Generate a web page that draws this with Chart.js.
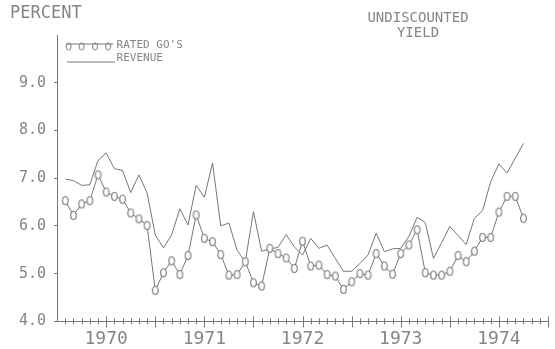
<!DOCTYPE html>
<html lang="en">
<head>
    <meta charset="UTF-8">
    <title>Undiscounted Yield</title>
    <script src="https://cdn.jsdelivr.net/npm/chart.js"></script>
    <style>
        html, body { margin: 0; padding: 0; background: #fff; }
    </style>
</head>
<body>
<canvas id="yieldChart" width="555" height="349"></canvas>
<script>
    // monthly observations, Feb 1970 .. Oct 1974
    const periods = [
        '1970-02','1970-03','1970-04','1970-05','1970-06','1970-07','1970-08','1970-09','1970-10','1970-11','1970-12',
        '1971-01','1971-02','1971-03','1971-04','1971-05','1971-06','1971-07','1971-08','1971-09','1971-10','1971-11','1971-12',
        '1972-01','1972-02','1972-03','1972-04','1972-05','1972-06','1972-07','1972-08','1972-09','1972-10','1972-11','1972-12',
        '1973-01','1973-02','1973-03','1973-04','1973-05','1973-06','1973-07','1973-08','1973-09','1973-10','1973-11','1973-12',
        '1974-01','1974-02','1974-03','1974-04','1974-05','1974-06','1974-07','1974-08','1974-09','1974-10'
    ];
    const ratedGOs = [
        6.53, 6.22, 6.46, 6.53, 7.07, 6.71, 6.62, 6.56, 6.27, 6.15, 6.01,
        4.65, 5.02, 5.27, 4.98, 5.38, 6.23, 5.74, 5.67, 5.40, 4.97, 4.98, 5.25,
        4.81, 4.74, 5.53, 5.42, 5.33, 5.11, 5.68, 5.16, 5.18, 4.98, 4.95, 4.67,
        4.83, 5.00, 4.97, 5.42, 5.16, 4.99, 5.42, 5.60, 5.92, 5.02, 4.97, 4.97,
        5.05, 5.38, 5.25, 5.47, 5.76, 5.76, 6.29, 6.62, 6.62, 6.16
    ];
    const revenue = [
        6.98, 6.95, 6.85, 6.86, 7.37, 7.53, 7.20, 7.16, 6.70, 7.07, 6.69,
        5.81, 5.54, 5.81, 6.36, 6.02, 6.85, 6.60, 7.32, 6.00, 6.06, 5.49, 5.25,
        6.30, 5.47, 5.52, 5.55, 5.82, 5.56, 5.39, 5.74, 5.53, 5.60, 5.32, 5.05,
        5.05, 5.21, 5.39, 5.85, 5.46, 5.52, 5.53, 5.78, 6.18, 6.07, 5.32, 5.65,
        5.99, 5.80, 5.61, 6.16, 6.32, 6.93, 7.30, 7.11, 7.42, 7.73
    ];
    const yearLabels = ['1970', '1971', '1972', '1973', '1974'];
    const seriesNames = ['RATED GO\'S', 'REVENUE'];
    const yAxisTitle = 'PERCENT';
    const cornerTitle = ['UNDISCOUNTED', 'YIELD'];

    const ink = '#767676';
    const textInk = '#858585';
    const mono = '"DejaVu Sans Mono", monospace';

    // months since Jan 1970
    function monthIndex(p) {
        const [y, m] = p.split('-').map(Number);
        return (y - 1970) * 12 + (m - 1);
    }
    const toPoints = values => values.map((v, i) => ({ x: monthIndex(periods[i]), y: v }));

    // hollow "0" shaped marker used for the rated series
    function drawOval(c, cx, cy, rx, ry) {
        c.beginPath();
        c.ellipse(cx, cy, rx, ry, 0, 0, Math.PI * 2);
        c.fill();
        c.stroke();
    }
    function makeMarker() {
        const cv = document.createElement('canvas');
        cv.width = 9; cv.height = 11;
        const c = cv.getContext('2d');
        c.strokeStyle = ink; c.fillStyle = '#fff'; c.lineWidth = 1.1;
        drawOval(c, 4.5, 5.5, 2.8, 4);
        return cv;
    }
    function makeRatedIcon() {
        const cv = document.createElement('canvas');
        cv.width = 60; cv.height = 12;
        const c = cv.getContext('2d');
        c.strokeStyle = ink; c.fillStyle = '#fff'; c.lineWidth = 1;
        [13.5, 26.5, 40, 53].forEach(x => drawOval(c, x, 7, 2.5, 3.5));
        c.beginPath(); c.moveTo(11, 4.5); c.lineTo(58, 4.5); c.stroke();
        return cv;
    }
    function makeLineIcon() {
        const cv = document.createElement('canvas');
        cv.width = 60; cv.height = 12;
        const c = cv.getContext('2d');
        c.strokeStyle = ink; c.lineWidth = 1;
        c.beginPath(); c.moveTo(12, 9.5); c.lineTo(60, 9.5); c.stroke();
        return cv;
    }
    const legendIcons = [makeRatedIcon(), makeLineIcon()];

    // keep the legend inside the plot, at its top left corner
    const legendInPlot = {
        id: 'legendInPlot',
        afterLayout(chart) {
            const lg = chart.legend;
            lg.left = chart.chartArea.left;
            lg.top = chart.chartArea.top + 3;
            lg.right = lg.left + lg.width;
            lg.bottom = lg.top + lg.height;
        }
    };

    // month ticks that cross the time axis, longer every half year
    const monthTicks = {
        id: 'monthTicks',
        afterDraw(chart) {
            const xs = chart.scales.x;
            const y0 = chart.chartArea.bottom;
            const c = chart.ctx;
            c.save();
            c.strokeStyle = ink;
            c.lineWidth = 1;
            xs.ticks.forEach(t => {
                if (t.value === 0) return;
                const px = Math.round(xs.getPixelForValue(t.value)) + 0.5;
                const major = t.value % 6 === 0;
                c.beginPath();
                c.moveTo(px, y0 - (major ? 5 : 3));
                c.lineTo(px, y0 + (major ? 6 : 3));
                c.stroke();
            });
            c.restore();
        }
    };

    // header texts
    const headerText = {
        id: 'headerText',
        afterDraw(chart) {
            const c = chart.ctx;
            c.save();
            c.fillStyle = textInk;
            c.textBaseline = 'middle';
            c.font = '17px ' + mono;
            c.textAlign = 'left';
            c.fillText(yAxisTitle, 10, 14);
            c.font = '14px ' + mono;
            c.textAlign = 'center';
            cornerTitle.forEach((line, i) => c.fillText(line, 418, 18 + i * 15));
            c.restore();
        }
    };

    const ctx = document.getElementById('yieldChart').getContext('2d');
    const yieldChart = new Chart(ctx, {
        type: 'line',
        data: {
            datasets: [{
                label: seriesNames[0],
                data: toPoints(ratedGOs),
                borderColor: ink,
                borderWidth: 1,
                pointStyle: makeMarker(),
                pointRadius: 4,
                tension: 0
            }, {
                label: seriesNames[1],
                data: toPoints(revenue),
                borderColor: ink,
                borderWidth: 1,
                pointRadius: 0,
                tension: 0
            }]
        },
        options: {
            responsive: false,
            animation: false,
            devicePixelRatio: 1,
            layout: { padding: { left: 11, right: 2, top: 35, bottom: -8 } },
            plugins: {
                tooltip: { enabled: false },
                legend: {
                    position: 'chartArea',
                    align: 'start',
                    labels: {
                        usePointStyle: true,
                        pointStyleWidth: 52,
                        boxHeight: 10,
                        padding: 2,
                        color: textInk,
                        font: { family: mono, size: 11 },
                        generateLabels(chart) {
                            return chart.data.datasets.map((ds, i) => ({
                                text: ds.label,
                                pointStyle: legendIcons[i],
                                datasetIndex: i,
                                fontColor: textInk,
                                fillStyle: 'transparent',
                                strokeStyle: 'transparent',
                                lineWidth: 0,
                                hidden: false
                            }));
                        }
                    }
                }
            },
            scales: {
                x: {
                    type: 'linear',
                    min: 0,
                    max: 60,
                    border: { color: ink, width: 1 },
                    grid: { display: false, drawTicks: false },
                    ticks: {
                        stepSize: 1,
                        autoSkip: false,
                        maxRotation: 0,
                        padding: 7,
                        color: textInk,
                        font: { family: mono, size: 18 },
                        callback: v => (v % 12 === 6 ? yearLabels[(v - 6) / 12] : '')
                    }
                },
                y: {
                    min: 4,
                    max: 10,
                    border: { color: ink, width: 1 },
                    grid: {
                        drawOnChartArea: false,
                        tickLength: 3,
                        tickColor: c => (c.tick && c.tick.value === 10 ? 'transparent' : ink)
                    },
                    ticks: {
                        stepSize: 1,
                        padding: 8,
                        color: textInk,
                        font: { family: mono, size: 15 },
                        callback: v => (v === 10 ? '' : v.toFixed(1))
                    }
                }
            }
        },
        plugins: [legendInPlot, monthTicks, headerText]
    });
</script>
</body>
</html>
